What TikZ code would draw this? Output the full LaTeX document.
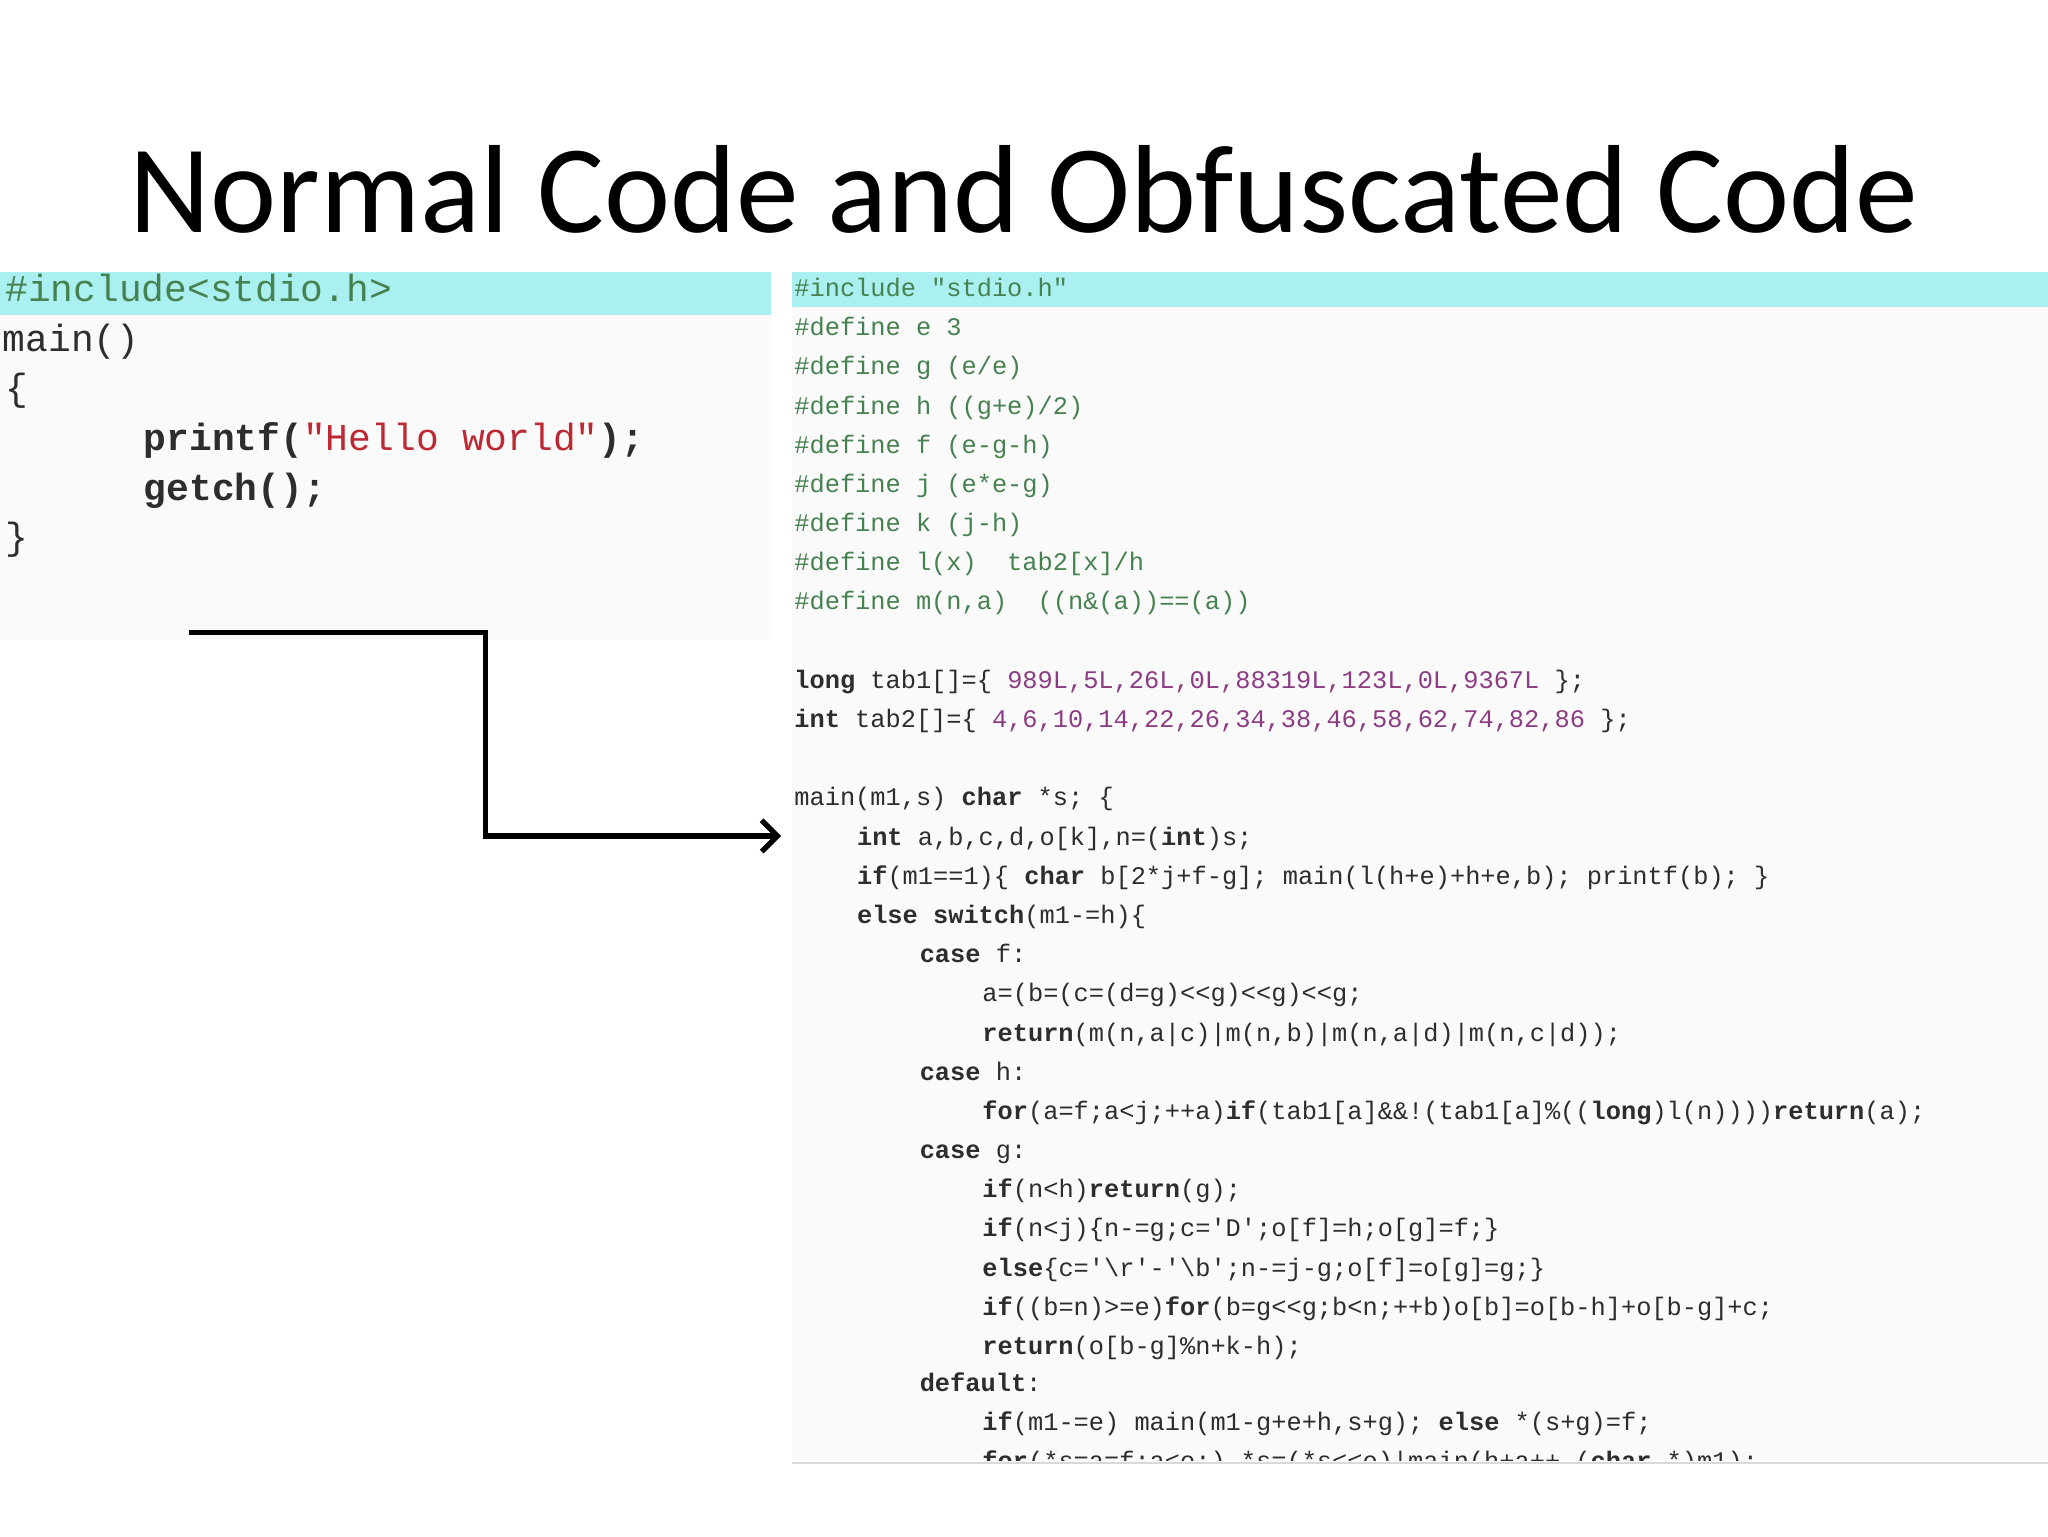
\documentclass[tikz,border=0pt]{standalone}
\usepackage{fontspec}
\setmainfont{Carlito}
\setmonofont{Liberation Mono}
\usetikzlibrary{arrows.meta}
\definecolor{cgreen}{RGB}{70,130,80}
\definecolor{cpurp}{RGB}{140,60,130}
\definecolor{cred}{RGB}{190,40,50}
\definecolor{ctext}{RGB}{45,45,45}
\definecolor{ccyan}{RGB}{170,240,240}
\newcommand{\kw}[1]{\textbf{#1}}
\newcommand{\nm}[1]{\textcolor{cpurp}{#1}}
\begin{document}
\begin{tikzpicture}[x=1pt,y=-1pt,
  rc/.style={anchor=base west,inner sep=0pt,font=\ttfamily\fontsize{19.4}{19}\selectfont,text=ctext},
  lc/.style={anchor=base west,inner sep=0pt,font=\ttfamily\fontsize{29}{29}\selectfont,text=ctext},
  conn/.style={line width=4pt,-{Straight Barb[length=12pt,width=24pt,line width=4pt]}}]
\useasboundingbox (0,0) rectangle (1568,1176);
\fill[white] (0,0) rectangle (1568,1176);
\node[anchor=base,inner sep=0pt,font=\fontsize{96}{96}\selectfont] (title) at (784,178) {Normal Code and Obfuscated Code};
% panels
\fill[black!2] (0,208) rectangle (590,490);
\fill[ccyan] (0,208) rectangle (590,241);
\fill[black!2] (606,208) rectangle (1568,1120);
\fill[ccyan] (606,208) rectangle (1568,235);
\draw[black!15,line width=2pt] (606,1120) -- (1568,1120);
% left code
\node[lc,text=cgreen] (a1) at (4,231) {\#include<stdio.h>};
\node[lc] (a2) at (2,269) {main()};
\node[lc] (a3) at (4,307) {\{};
\node[lc] (a4) at (110,345) {\kw{printf(}\textcolor{cred}{"Hello world"}\kw{);}};
\node[lc] (a5) at (110,383) {\kw{getch();}};
\node[lc] (a6) at (4,421) {\}};
% right code
\begin{scope}
\clip (606,208) rectangle (1568,1118);
\node[rc,text=cgreen] (r1) at (608,227) {\#include "stdio.h"};
\node[rc,text=cgreen] (r2) at (608,257) {\#define e 3};
\node[rc,text=cgreen] (r3) at (608,287) {\#define g (e/e)};
\node[rc,text=cgreen] (r4) at (608,317) {\#define h ((g+e)/2)};
\node[rc,text=cgreen] (r5) at (608,347) {\#define f (e-g-h)};
\node[rc,text=cgreen] (r6) at (608,377) {\#define j (e*e-g)};
\node[rc,text=cgreen] (r7) at (608,407) {\#define k (j-h)};
\node[rc,text=cgreen] (r8) at (608,437) {\#define l(x)~ tab2[x]/h};
\node[rc,text=cgreen] (r9) at (608,467) {\#define m(n,a)~ ((n\&(a))==(a))};
\node[rc] (r10) at (608,527) {\kw{long} tab1[]=\{ \nm{989L,5L,26L,0L,88319L,123L,0L,9367L} \};};
\node[rc] (r11) at (608,557) {\kw{int} tab2[]=\{ \nm{4,6,10,14,22,26,34,38,46,58,62,74,82,86} \};};
\node[rc] (r12) at (608,617) {main(m1,s) \kw{char} *s; \{};
\node[rc] (r13) at (656,647) {\kw{int} a,b,c,d,o[k],n=(\kw{int})s;};
\node[rc] (r14) at (656,677) {\kw{if}(m1==1)\{ \kw{char} b[2*j+f-g]; main(l(h+e)+h+e,b); printf(b); \}};
\node[rc] (r15) at (656,707) {\kw{else switch}(m1-=h)\{};
\node[rc] (r16) at (704,737) {\kw{case} f:};
\node[rc] (r17) at (752,767) {a=(b=(c=(d=g)<<g)<<g)<<g;};
\node[rc] (r18) at (752,797) {\kw{return}(m(n,a|c)|m(n,b)|m(n,a|d)|m(n,c|d));};
\node[rc] (r19) at (704,827) {\kw{case} h:};
\node[rc] (r20) at (752,857) {\kw{for}(a=f;a<j;++a)\kw{if}(tab1[a]\&\&!(tab1[a]\%((\kw{long})l(n))))\kw{return}(a);};
\node[rc] (r21) at (704,887) {\kw{case} g:};
\node[rc] (r22) at (752,917) {\kw{if}(n<h)\kw{return}(g);};
\node[rc] (r23) at (752,947) {\kw{if}(n<j)\{n-=g;c='D';o[f]=h;o[g]=f;\}};
\node[rc] (r24) at (752,977) {\kw{else}\{c='\textbackslash r'-'\textbackslash b';n-=j-g;o[f]=o[g]=g;\}};
\node[rc] (r25) at (752,1007) {\kw{if}((b=n)>=e)\kw{for}(b=g<<g;b<n;++b)o[b]=o[b-h]+o[b-g]+c;};
\node[rc] (r26) at (752,1037) {\kw{return}(o[b-g]\%n+k-h);};
\node[rc] (r27) at (704,1065) {\kw{default}:};
\node[rc] (r28) at (752,1095) {\kw{if}(m1-=e) main(m1-g+e+h,s+g); \kw{else} *(s+g)=f;};
\node[rc] (r29) at (752,1125) {\kw{for}(*s=a=f;a<e;) *s=(*s<<e)|main(h+a++,(\kw{char} *)m1);};
\end{scope}
% arrow
\coordinate (s) at (145,484);
\coordinate (t) at (598,640);
\draw[conn] (s) -- (372,484) -- (372,640) -- (t);
\end{tikzpicture}
\end{document}
